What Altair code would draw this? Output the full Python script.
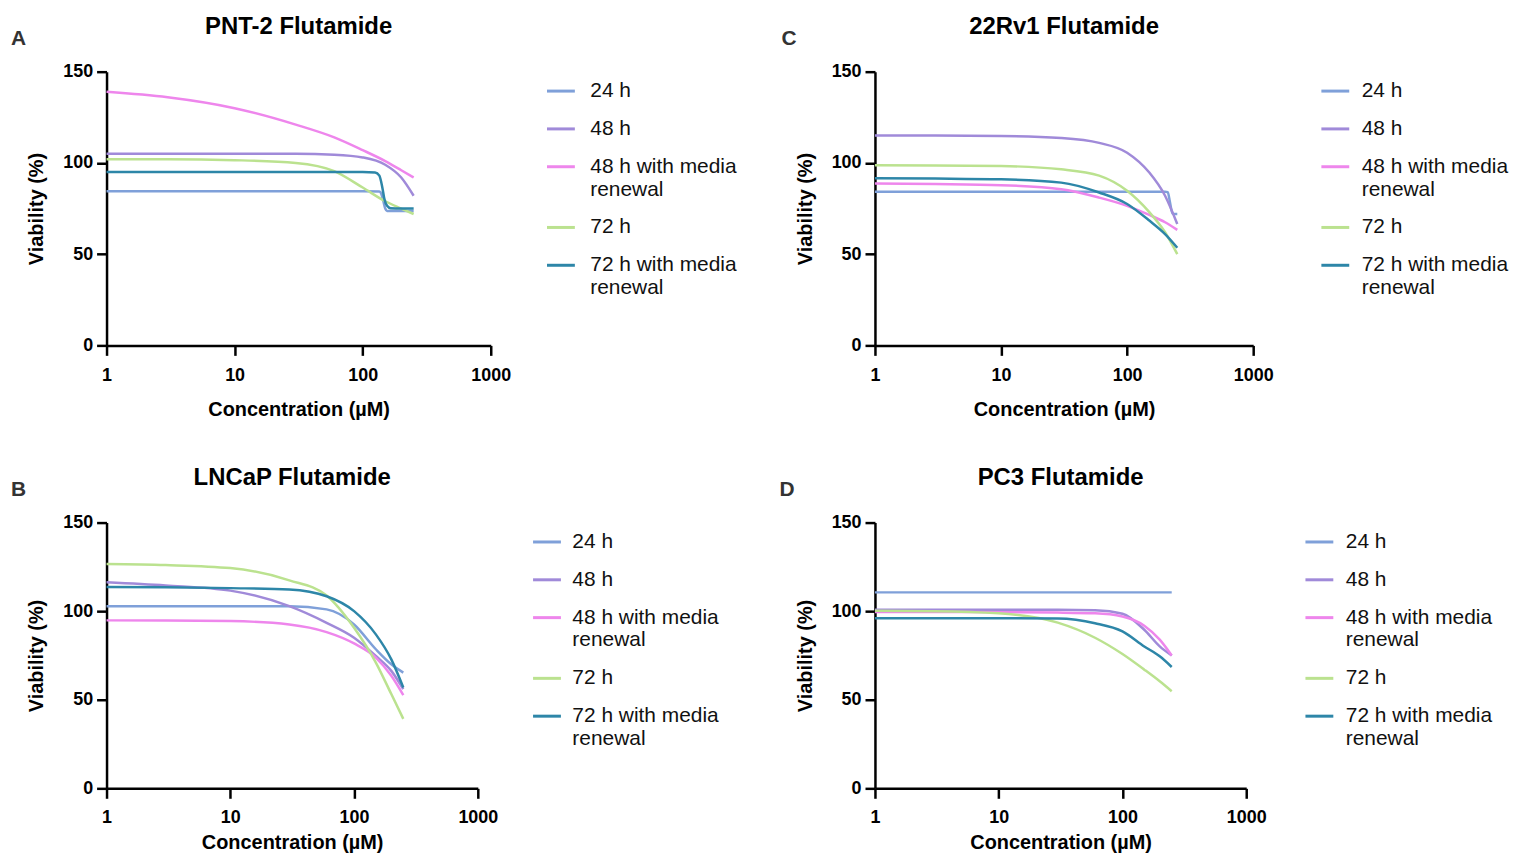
import altair as alt
import pandas as pd

SERIES = ["24 h", "48 h", "48 h with media renewal", "72 h", "72 h with media renewal"]
COLORS = ["#7fa0d9", "#a08ad9", "#ee86ec", "#bbe28f", "#2d86a8"]

# common concentration grid (µM)
X_GRID = [1, 3, 10, 30, 60, 100, 150, 200, 250]

# ---- A: PNT-2 ----
A_24_X = [1, 100, 135, 140, 145, 150, 155, 200, 250]
A_24_Y = [84.5, 84.5, 84.4, 83, 79, 75, 73.7, 73.6, 73.6]
A_48_Y = [105, 105, 105, 105, 104.5, 103, 99, 92, 82]
A_48R_Y = [139, 136, 130, 121, 114, 107, 101, 96, 92]
A_72_Y = [102, 102, 101.5, 100, 95.5, 86.5, 79, 75, 72]
A_72R_X = [1, 100, 125, 135, 142, 148, 155, 165, 200, 250]
A_72R_Y = [95, 95, 94.8, 93, 87, 80, 76.5, 75.2, 75, 75]

# ---- C: 22Rv1 ----
C_24_X = [1, 200, 210, 218, 225, 232, 250]
C_24_Y = [84.2, 84.2, 84, 79, 74, 72, 72]
C_48_Y = [115, 115, 114.8, 113.7, 111, 105.6, 94.7, 82, 66.5]
C_48R_Y = [88.7, 88.4, 87.8, 85.6, 81, 76.5, 71.5, 67.5, 63.3]
C_72_Y = [98.7, 98.6, 98.3, 96.5, 93, 84.7, 73, 62, 50]
C_72R_Y = [91.6, 91.4, 91, 89.2, 83.8, 77.5, 68.4, 61, 53.5]

# ---- B: LNCaP ----
B_24_Y = [102.8, 102.8, 102.8, 102.8, 101, 92.5, 78.5, 70, 65.3]
B_48_Y = [116.3, 114.5, 111.6, 102.8, 93.4, 85, 74.7, 66.3, 56]
B_48R_Y = [94.8, 94.7, 94.4, 92.5, 88.2, 81.8, 73.8, 63.5, 52.6]
B_72_Y = [126.6, 126, 124.3, 117.4, 108.8, 90.6, 71, 53.2, 39.2]
B_72R_Y = [113.7, 113.5, 113, 112.2, 108.4, 100, 86.9, 72.8, 56.9]

# ---- D: PC3 ----
D_24_Y = [110.6, 110.6, 110.6, 110.6, 110.6, 110.6, 110.6, 110.6, 110.6]
D_48_Y = [100.8, 100.8, 100.8, 100.8, 100.5, 98.5, 89.5, 80.1, 75]
D_48R_Y = [99.5, 99.5, 99.4, 99.2, 98.8, 97, 91.8, 83.9, 75]
D_72_Y = [100.2, 100, 98.8, 93.5, 85, 75.8, 67, 60.4, 54.8]
D_72R_Y = [96, 96, 96, 95.8, 93.2, 88.6, 80.1, 74.5, 68.5]

FONT = "Liberation Sans"


def frame(pairs):
    rows = []
    for name, xs, ys in pairs:
        for x, y in zip(xs, ys):
            rows.append({"series": name, "conc": x, "viab": y})
    return pd.DataFrame(rows)


def panel(pairs, title, letter, w, h, lx, loff, letter_dx, lpad, tpad):
    df = frame(pairs)
    lines = alt.Chart(df).mark_line(strokeWidth=2.5, interpolate="monotone").encode(
        x=alt.X("conc:Q",
                scale=alt.Scale(type="log", domain=[1, 1000]),
                axis=alt.Axis(values=[1, 10, 100, 1000], format="d", labelFlush=False,
                              title="Concentration (µM)", labelPadding=lpad, titlePadding=tpad)),
        y=alt.Y("viab:Q",
                scale=alt.Scale(domain=[0, 150]),
                axis=alt.Axis(values=[0, 50, 100, 150], title="Viability (%)",
                              labelPadding=4, titlePadding=16)),
        color=alt.Color("series:N",
                        scale=alt.Scale(domain=SERIES, range=COLORS),
                        legend=alt.Legend(
                            orient="none", legendX=lx, legendY=4, title=None,
                            symbolType="stroke", symbolSize=784, symbolStrokeWidth=3,
                            labelFont=FONT, labelFontSize=21, labelColor="#111111",
                            labelOffset=loff, rowPadding=12, labelLimit=400,
                            labelExpr="indexof(datum.label, ' with') > 0 ? [slice(datum.label, 0, 15), 'renewal'] : datum.label")),
        order=alt.Order("conc:Q"),
    )
    lab = alt.Chart(pd.DataFrame({"t": [letter]})).mark_text(
        font=FONT, fontSize=21, fontWeight="bold", color="#333333",
        align="left", baseline="alphabetic",
    ).encode(text="t:N", x=alt.value(letter_dx), y=alt.value(-27))
    return alt.layer(lines, lab).properties(
        width=w, height=h,
        title=alt.Title(title, font=FONT, fontSize=24, fontWeight="bold", color="black",
                        anchor="middle", frame="group", offset=-11),
    )


A = panel([("24 h", A_24_X, A_24_Y), ("48 h", X_GRID, A_48_Y),
           ("48 h with media renewal", X_GRID, A_48R_Y), ("72 h", X_GRID, A_72_Y),
           ("72 h with media renewal", A_72R_X, A_72R_Y)],
          "PNT-2 Flutamide", "A", 386, 275, 441, 14, -96, 11, 15)
C = panel([("24 h", C_24_X, C_24_Y), ("48 h", X_GRID, C_48_Y),
           ("48 h with media renewal", X_GRID, C_48R_Y), ("72 h", X_GRID, C_72_Y),
           ("72 h with media renewal", X_GRID, C_72R_Y)],
          "22Rv1 Flutamide", "C", 380, 275, 447, 11, -94, 11, 15)
B = panel([("24 h", X_GRID, B_24_Y), ("48 h", X_GRID, B_48_Y),
           ("48 h with media renewal", X_GRID, B_48R_Y), ("72 h", X_GRID, B_72_Y),
           ("72 h with media renewal", X_GRID, B_72R_Y)],
          "LNCaP Flutamide", "B", 373, 267, 427, 10, -96, 10, 6)
D = panel([("24 h", X_GRID, D_24_Y), ("48 h", X_GRID, D_48_Y),
           ("48 h with media renewal", X_GRID, D_48R_Y), ("72 h", X_GRID, D_72_Y),
           ("72 h with media renewal", X_GRID, D_72R_Y)],
          "PC3 Flutamide", "D", 373, 267, 431, 11, -96, 10, 6)

top = alt.hconcat(A, C, spacing=44).resolve_scale(color="independent")
bottom = alt.hconcat(B, D, spacing=60).resolve_scale(color="independent")

chart = alt.vconcat(top, bottom, spacing=47).resolve_scale(
    color="independent"
).properties(
    background="white",
    padding={"left": 3, "top": 5, "right": 0, "bottom": 0},
).configure_view(
    stroke=None
).configure_axis(
    domainColor="black", domainWidth=2.5, tickColor="black", tickWidth=2.5, tickSize=10,
    labelFont=FONT, labelFontSize=18, labelFontWeight="bold", labelColor="black",
    titleFont=FONT, titleFontSize=20, titleFontWeight="bold", titleColor="black",
    grid=False,
)

chart.save("out.html", embed_options={"renderer": "svg", "actions": False})
